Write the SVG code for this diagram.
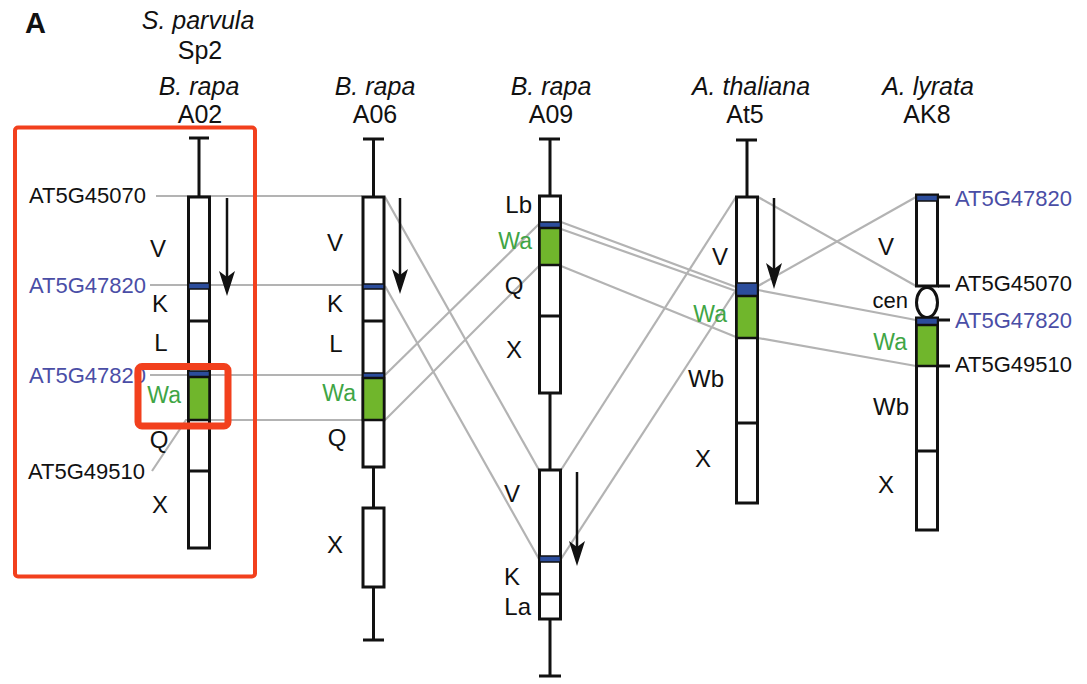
<svg xmlns="http://www.w3.org/2000/svg" width="1087" height="684" viewBox="0 0 1087 684">
  <style>
    text { font-family: "Liberation Sans", Arial, sans-serif; font-size: 22px; fill: #111; }
    .hd { font-size: 25px; text-anchor: middle; }
    .it { font-style: italic; }
    .mid { text-anchor: middle; font-size: 24px; }
    .end { text-anchor: end; }
    .seglbl { text-anchor: end; font-size: 24px; }
    .blue { fill: #4a4ea6; }
    .green { fill: #3fa545; font-size: 23px; }
    .chr { fill: #fff; stroke: #111; stroke-width: 3; }
    .seg { stroke: #111; stroke-width: 3; fill: none; }
    .band { fill: #2c4d9c; stroke: #111; stroke-width: 1.5; }
    .wa { fill: #70b62c; stroke: #111; stroke-width: 2.5; }
    .link { stroke: #b3b3b3; stroke-width: 2.2; fill: none; }
    .arrow { stroke: #111; stroke-width: 2.5; fill: none; }
    .head { fill: #111; }
    .hl { fill: none; stroke: #f2401d; }
  </style>

  <text x="25" y="33" style="font-size:29px;font-weight:bold">A</text>

  <!-- synteny connectors -->
  <g id="connectors">
    <line class="link" x1="156" y1="196" x2="362" y2="196"/>
    <line class="link" x1="150" y1="285" x2="362" y2="285"/>
    <line class="link" x1="150" y1="375" x2="362" y2="375"/>
    <polyline class="link" points="152,471 186,420 362,420"/>
    <line class="link" x1="385" y1="197" x2="539" y2="470"/>
    <line class="link" x1="385" y1="286" x2="539" y2="559"/>
    <line class="link" x1="385" y1="375" x2="539" y2="224"/>
    <line class="link" x1="385" y1="420" x2="539" y2="266"/>
    <line class="link" x1="561" y1="222" x2="736" y2="287"/>
    <line class="link" x1="561" y1="229" x2="736" y2="291"/>
    <line class="link" x1="561" y1="266" x2="736" y2="337"/>
    <line class="link" x1="561" y1="470" x2="736" y2="197"/>
    <line class="link" x1="561" y1="559" x2="736" y2="290"/>
    <line class="link" x1="758" y1="197" x2="916" y2="286"/>
    <line class="link" x1="758" y1="286" x2="916" y2="197"/>
    <line class="link" x1="758" y1="290" x2="916" y2="320"/>
    <line class="link" x1="758" y1="338" x2="916" y2="366"/>
  </g>

  <!-- S. parvula Sp2 / B. rapa A02 -->
  <g id="chr-A02">
    <text class="hd it" x="198" y="29">S. parvula</text>
    <text class="hd" x="200" y="59">Sp2</text>
    <text class="hd it" x="199" y="95">B. rapa</text>
    <text class="hd" x="200" y="123">A02</text>
    <path class="seg" d="M189 138H209M199 138V197"/>
    <rect class="chr" x="188.5" y="197" width="21" height="351"/>
    <rect class="band" x="188.5" y="283" width="21" height="6"/>
    <line class="seg" x1="188.5" y1="321" x2="209.5" y2="321"/>
    <rect class="band" x="188.5" y="371" width="21" height="6"/>
    <rect class="wa" x="188.5" y="377" width="21" height="43"/>
    <line class="seg" x1="188.5" y1="471" x2="209.5" y2="471"/>
    <line class="arrow" x1="227" y1="198" x2="227" y2="280"/>
    <path class="head" d="M227 296L219 271L227 277L235 271Z"/>
    <text class="end" x="146" y="203">AT5G45070</text>
    <text class="end blue" x="146" y="293">AT5G47820</text>
    <text class="end blue" x="146" y="383">AT5G47820</text>
    <text class="end" x="145" y="479">AT5G49510</text>
    <text class="mid" x="158" y="257">V</text>
    <text class="mid" x="160" y="312">K</text>
    <text class="mid" x="161" y="351">L</text>
    <text class="end green" x="181" y="403">Wa</text>
    <text class="mid" x="159" y="448">Q</text>
    <text class="mid" x="160" y="513">X</text>
  </g>

  <!-- B. rapa A06 -->
  <g id="chr-A06">
    <text class="hd it" x="375" y="95">B. rapa</text>
    <text class="hd" x="375" y="123">A06</text>
    <path class="seg" d="M363 139H384M373.5 139V197M373.5 467V508M373.5 587V640M363 640H384"/>
    <rect class="chr" x="363" y="197" width="21" height="270"/>
    <rect class="band" x="363" y="284" width="21" height="5"/>
    <line class="seg" x1="363" y1="321" x2="384" y2="321"/>
    <rect class="band" x="363" y="373" width="21" height="5"/>
    <rect class="wa" x="363" y="378" width="21" height="42"/>
    <rect class="chr" x="363" y="508" width="21" height="79"/>
    <line class="arrow" x1="400" y1="198" x2="400" y2="278"/>
    <path class="head" d="M400 294L392 269L400 275L408 269Z"/>
    <text class="mid" x="335" y="251">V</text>
    <text class="mid" x="335" y="312">K</text>
    <text class="mid" x="336" y="352">L</text>
    <text class="end green" x="356" y="401">Wa</text>
    <text class="mid" x="337" y="446">Q</text>
    <text class="mid" x="335" y="553">X</text>
  </g>

  <!-- B. rapa A09 -->
  <g id="chr-A09">
    <text class="hd it" x="551" y="95">B. rapa</text>
    <text class="hd" x="551" y="123">A09</text>
    <path class="seg" d="M539 139H560M550 139V196M550 393V470M550 619V676M539 676H561"/>
    <rect class="chr" x="539.5" y="196" width="21" height="197"/>
    <rect class="band" x="539.5" y="222" width="21" height="6"/>
    <rect class="wa" x="539.5" y="228" width="21" height="37"/>
    <line class="seg" x1="539.5" y1="316" x2="560.5" y2="316"/>
    <rect class="chr" x="539.5" y="470" width="21" height="149"/>
    <rect class="band" x="539.5" y="556" width="21" height="6"/>
    <line class="seg" x1="539.5" y1="594" x2="560.5" y2="594"/>
    <line class="arrow" x1="577" y1="472" x2="577" y2="550"/>
    <path class="head" d="M577 566L569 541L577 547L585 541Z"/>
    <text class="seglbl" x="532" y="213">Lb</text>
    <text class="end green" x="532" y="249">Wa</text>
    <text class="mid" x="514" y="294">Q</text>
    <text class="mid" x="514" y="358">X</text>
    <text class="mid" x="512" y="502">V</text>
    <text class="mid" x="512" y="585">K</text>
    <text class="seglbl" x="531" y="615">La</text>
  </g>

  <!-- A. thaliana At5 -->
  <g id="chr-At5">
    <text class="hd it" x="751" y="95">A. thaliana</text>
    <text class="hd" x="745" y="123">At5</text>
    <path class="seg" d="M736 140H757M747 140V197"/>
    <rect class="chr" x="736.5" y="197" width="21" height="306"/>
    <rect class="band" x="736.5" y="283" width="21" height="13"/>
    <rect class="wa" x="736.5" y="296" width="21" height="42"/>
    <line class="seg" x1="736.5" y1="423" x2="757.5" y2="423"/>
    <line class="arrow" x1="774" y1="198" x2="774" y2="272"/>
    <path class="head" d="M774 289L766 263L774 269L782 263Z"/>
    <text class="mid" x="720" y="265">V</text>
    <text class="end green" x="727" y="322">Wa</text>
    <text class="seglbl" x="724" y="387">Wb</text>
    <text class="mid" x="703" y="467">X</text>
  </g>

  <!-- A. lyrata AK8 -->
  <g id="chr-AK8">
    <text class="hd it" x="928" y="95">A. lyrata</text>
    <text class="hd" x="927" y="123">AK8</text>
    <rect class="chr" x="916.5" y="195" width="21" height="91"/>
    <rect class="band" x="916.5" y="195" width="21" height="6"/>
    <ellipse class="chr" cx="927" cy="302.5" rx="10.5" ry="15"/>
    <rect class="chr" x="916.5" y="318" width="21" height="212"/>
    <rect class="band" x="916.5" y="318" width="21" height="7"/>
    <rect class="wa" x="916.5" y="325" width="21" height="41"/>
    <line class="seg" x1="916.5" y1="451" x2="937.5" y2="451"/>
    <path class="seg" stroke-width="2" d="M938 197H950M938 286H950M938 320H950M938 366H950"/>
    <text class="blue" x="955" y="206">AT5G47820</text>
    <text x="955" y="291">AT5G45070</text>
    <text class="blue" x="955" y="328">AT5G47820</text>
    <text x="955" y="372">AT5G49510</text>
    <text class="mid" x="886" y="255">V</text>
    <text class="end" x="908" y="308">cen</text>
    <text class="end green" x="907" y="350">Wa</text>
    <text class="seglbl" x="909" y="415">Wb</text>
    <text class="mid" x="886" y="493">X</text>
  </g>

  <!-- highlight frames -->
  <g id="highlight">
    <rect class="hl" x="15" y="127.5" width="240" height="449" rx="3" stroke-width="4"/>
    <rect class="hl" x="138" y="366.5" width="90" height="59.5" rx="4" stroke-width="7"/>
  </g>
</svg>
